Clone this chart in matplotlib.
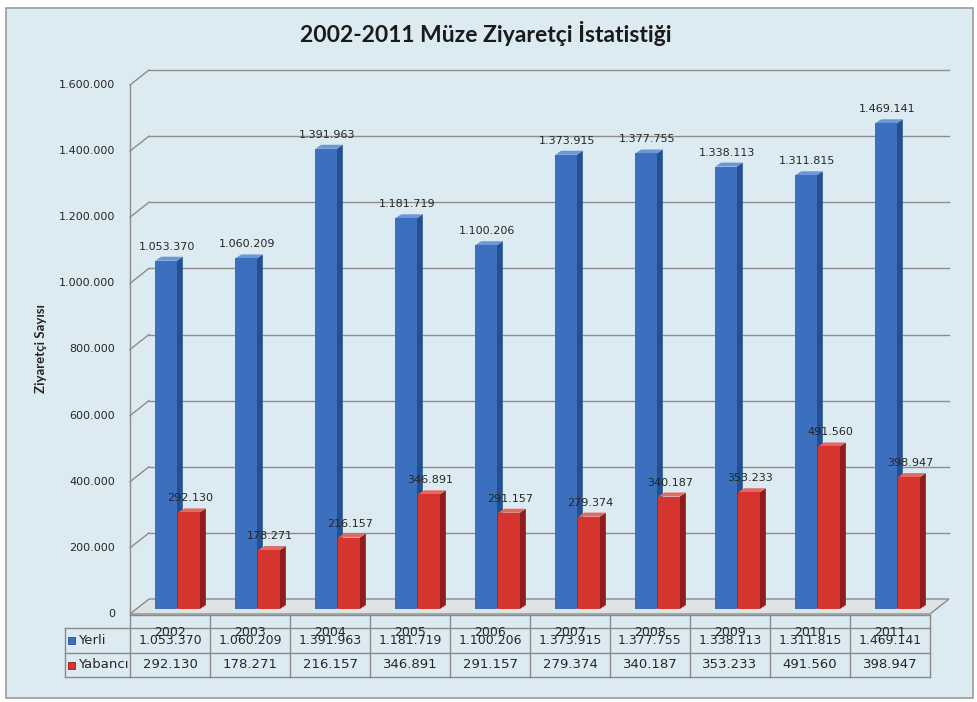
# Museum visitor statistics 2002-2011, pseudo-3D column chart with data table
import numpy as np
import matplotlib.pyplot as plt
from matplotlib.patches import Polygon, Rectangle

# data
years = ['2002', '2003', '2004', '2005', '2006', '2007', '2008', '2009', '2010', '2011']
yerli = [1053370, 1060209, 1391963, 1181719, 1100206,
         1373915, 1377755, 1338113, 1311815, 1469141]
yabanci = [292130, 178271, 216157, 346891, 291157,
           279374, 340187, 353233, 491560, 398947]
y_ticks = [0, 200000, 400000, 600000, 800000, 1000000, 1200000, 1400000, 1600000]
series_names = ['Yerli', 'Yabancı']

# styles
W, H = 978, 702
BG = '#dcebf1'
GRID = '#8c8c8c'
TXT = '#262626'
BLUE = ('#3c6fbe', '#23508f', '#6b96d8')   # front, side, top
RED = ('#d5352e', '#8f1d1a', '#e36a62')


def tr_number(v):
    """ Turkish style thousands separator """
    return f'{v:,}'.replace(',', '.')


fig = plt.figure(figsize=(W / 100, H / 100), dpi=100)
fig.patch.set_facecolor('white')

# chart area background with border
fig.patches.append(Rectangle((6 / W, 4 / H), 967 / W, 690 / H,
                             transform=fig.transFigure, facecolor=BG,
                             edgecolor='#9b9b9b', linewidth=1.2, zorder=-5))

# main axes: x from 130 to 930 px, value 0 at y=609 px, 1.600.000 at y=80 px
ax = fig.add_axes([130 / W, (H - 609) / H, 800 / W, 529 / H])
ax.set_xlim(0, 10)
ax.set_ylim(0, 1600000)
ax.patch.set_visible(False)
for s in ax.spines.values():
    s.set_visible(False)
ax.set_xticks([])
ax.set_yticks([])

# pixel -> data unit helpers
px_x = 10 / 800
px_y = 1600000 / 529
FRONT_DY = -5 * px_y
BACK_DX = 19 * px_x
BACK_DY = 10 * px_y

# back wall gridlines and left wall diagonals
for v in y_ticks[1:]:
    ax.plot([BACK_DX, 10 + BACK_DX], [v + BACK_DY] * 2, color=GRID,
            lw=1, clip_on=False, zorder=1)
    ax.plot([0, BACK_DX], [v + FRONT_DY, v + BACK_DY], color=GRID,
            lw=1, clip_on=False, zorder=1)
# front edge of left wall
ax.plot([0, 0], [FRONT_DY, 1600000 + FRONT_DY], color=GRID, lw=1,
        clip_on=False, zorder=1)

# floor
floor = Polygon([(0, FRONT_DY), (10, FRONT_DY), (10 + BACK_DX, BACK_DY),
                 (BACK_DX, BACK_DY)], closed=True, facecolor='#dde3e5',
                edgecolor=GRID, lw=1, clip_on=False, zorder=1)
ax.add_patch(floor)

# y tick labels on the front plane
for v in y_ticks:
    ax.annotate(tr_number(v), xy=(0, v), xytext=(-15, -5),
                textcoords='offset pixels', ha='right', va='center',
                fontsize=8, color=TXT, annotation_clip=False)


def bar3d(x_center, h, width, colors):
    """ Draws one column with a front face, a side face and a top face """
    dx, dy = 6 * px_x, 4 * px_y
    x0, x1 = x_center - width / 2, x_center + width / 2
    ax.add_patch(Polygon([(x1, 0), (x1 + dx, dy), (x1 + dx, h + dy), (x1, h)],
                         closed=True, facecolor=colors[1], edgecolor='none',
                         zorder=3))
    ax.add_patch(Polygon([(x0, h), (x1, h), (x1 + dx, h + dy), (x0 + dx, h + dy)],
                         closed=True, facecolor=colors[2], edgecolor='none',
                         zorder=3))
    ax.add_patch(Rectangle((x0, 0), width, h, facecolor=colors[0],
                           edgecolor='none', zorder=3))


bar_w = 0.27
for i in range(len(years)):
    for val, off, cols in [(yerli[i], 0.45, BLUE), (yabanci[i], 0.738, RED)]:
        bar3d(i + off, val, bar_w, cols)

# value labels above the columns
for i in range(len(years)):
    for val, off in [(yerli[i], 0.45), (yabanci[i], 0.738)]:
        ax.annotate(tr_number(val), xy=(i + off, val), xytext=(1, 9),
                    textcoords='offset pixels', ha='center', va='bottom',
                    fontsize=8, color=TXT, zorder=5, annotation_clip=False)

# data table below the chart
tax = fig.add_axes([130 / W, (H - 678) / H, 800 / W, 63 / H])
tax.set_xlim(0, 10)
tax.set_ylim(63, 0)
tax.axis('off')
lab_x = -65 / 80
lc = '#8a8a8a'
tax.plot([0, 10], [0, 0], color=lc, lw=1, clip_on=False)
for yy in [13, 38, 62]:
    tax.plot([lab_x, 10], [yy, yy], color=lc, lw=1, clip_on=False)
for xx in range(11):
    tax.plot([xx, xx], [0, 62], color=lc, lw=1, clip_on=False)
tax.plot([lab_x, lab_x], [13, 62], color=lc, lw=1, clip_on=False)

for i, yr in enumerate(years):
    tax.text(i + 0.5, 18, yr, ha='center', va='center', fontsize=9,
             color=TXT, clip_on=False)
    tax.text(i + 0.5, 26, tr_number(yerli[i]), ha='center', va='center',
             fontsize=9, color=TXT, clip_on=False)
    tax.text(i + 0.5, 50, tr_number(yabanci[i]), ha='center', va='center',
             fontsize=9.5, color=TXT, clip_on=False)

for name, yy, cols in [(series_names[0], 25.5, BLUE), (series_names[1], 50, RED)]:
    tax.add_patch(Rectangle((lab_x + 0.04, yy - 3.5), 0.09, 7,
                            facecolor=cols[0], edgecolor=cols[1], lw=0.6,
                            clip_on=False))
    tax.text(lab_x + 0.16, yy, name, ha='left', va='center', fontsize=9.5,
             color=TXT, clip_on=False)

# titles
fig.text(486 / W, 1 - 33 / H, '2002-2011 Müze Ziyaretçi İstatistiği',
         ha='center', va='center', fontsize=16.5, fontweight='bold',
         family='Lato', color='#1a1a1a')
fig.text(41 / W, 1 - 349 / H, 'Ziyaretçi Sayısı', rotation=90, ha='center',
         va='center', fontsize=9.5, fontweight='bold', family='Lato', color=TXT)

plt.savefig('out.png', dpi=100, facecolor=fig.get_facecolor())
